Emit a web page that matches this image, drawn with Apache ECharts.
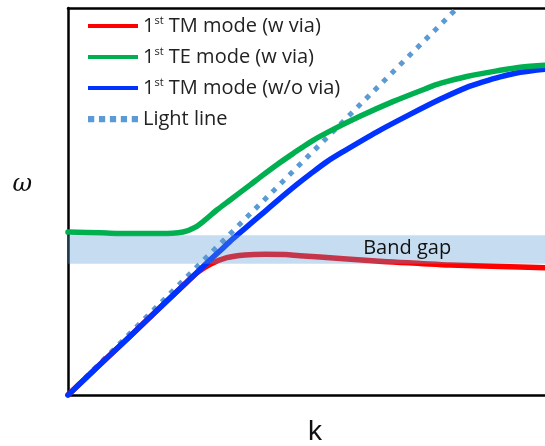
<!DOCTYPE html>
<html>
<head>
<meta charset="utf-8">
<script src="https://cdn.jsdelivr.net/npm/echarts@6/dist/echarts.min.js"></script>
<style>html,body{margin:0;padding:0;background:#fff;}#c{width:545px;height:446px;}</style>
</head>
<body>
<div id="c"></div>
<script>
// ---- data (k, ω in arbitrary normalized units 0..10) ----
const seriesNames = ['1{sup|st} TM mode (w via)', '1{sup|st} TE mode (w via)', '1{sup|st} TM mode (w/o via)', 'Light line'];

const tmViaK = [0, 0.67, 1.24, 1.93, 2.45, 2.73, 2.98, 3.33, 3.71, 4.13, 4.55, 4.86, 5.70, 6.60, 7.38, 8.01, 9.06, 10];
const tmViaW = [0, 0.79, 1.45, 2.26, 2.87, 3.18, 3.38, 3.55, 3.62, 3.64, 3.63, 3.60, 3.53, 3.45, 3.40, 3.36, 3.32, 3.29];

const teViaK = [0, 0.67, 1.30, 1.93, 2.41, 2.66, 2.87, 3.12, 3.40, 3.82, 4.03, 4.38, 4.72, 5.07, 5.43, 6.12, 6.81, 7.53, 7.80, 8.36, 9.06, 9.48, 10];
const teViaW = [4.21, 4.19, 4.17, 4.17, 4.21, 4.33, 4.52, 4.78, 5.04, 5.43, 5.63, 5.95, 6.24, 6.53, 6.78, 7.20, 7.58, 7.93, 8.05, 8.23, 8.39, 8.47, 8.52];

const tmNoViaK = [0, 0.67, 1.24, 1.93, 2.56, 2.91, 3.19, 3.46, 3.82, 4.03, 4.38, 4.80, 5.07, 5.43, 5.77, 6.48, 7.17, 7.80, 8.36, 8.70, 9.06, 9.48, 10];
const tmNoViaW = [0, 0.79, 1.45, 2.26, 3.00, 3.41, 3.73, 4.04, 4.42, 4.64, 5.01, 5.44, 5.70, 6.03, 6.29, 6.80, 7.25, 7.64, 7.95, 8.09, 8.22, 8.34, 8.42];

const lightK = [0, 8.16];
const lightW = [0, 10];

const bandGap = [3.39, 4.13];       // ω range of the band gap
const bandLabel = 'Band gap';
const bandLabelPos = [7.11, 3.80];  // k, ω of label centre
const xName = 'k';
const yName = 'ω';

const zip = (a, b) => a.map((v, i) => [v, b[i]]);

const chart = echarts.init(document.getElementById('c'), null, {renderer: 'canvas'});
const font = 'Open Sans';
const lineBase = (name, color, k, w, z, extra) => Object.assign({
  name: name, type: 'line', data: zip(k, w), showSymbol: false, symbol: 'none',
  smooth: 0.3, z: z,
  lineStyle: {color: color, width: 5.5, cap: 'round', join: 'round'}, itemStyle: {color: color},
  emphasis: {disabled: true}, animation: false
}, extra || {});

chart.setOption({
  animation: false,
  grid: {left: 68, right: 0, top: 8, bottom: 51, outerBoundsMode: 'none', containLabel: false},
  xAxis: [{
    type: 'value', min: 0, max: 10, position: 'bottom',
    axisLine: {show: true, onZero: false, lineStyle: {color: '#000', width: 2.5}},
    axisTick: {show: false}, axisLabel: {show: false}, splitLine: {show: false},
    name: xName, nameLocation: 'middle', nameGap: 23,
    nameTextStyle: {fontFamily: 'Liberation Sans', fontSize: 28, color: '#111', padding: [0, 0, 0, 17]}
  }, {
    type: 'value', min: 0, max: 10, position: 'top',
    axisLine: {show: true, onZero: false, lineStyle: {color: '#000', width: 2.5}},
    axisTick: {show: false}, axisLabel: {show: false}, splitLine: {show: false}
  }],
  yAxis: {
    type: 'value', min: 0, max: 10,
    axisLine: {show: true, onZero: false, lineStyle: {color: '#000', width: 2.5}},
    axisTick: {show: false}, axisLabel: {show: false}, splitLine: {show: false},
    name: yName, nameLocation: 'middle', nameGap: 36, nameRotate: 0,
    nameTextStyle: {fontFamily: 'DejaVu Serif', fontStyle: 'italic', fontSize: 24, color: '#111',
      verticalAlign: 'bottom', lineHeight: 34}
  },
  legend: {
    orient: 'vertical', left: 83, top: 10, itemWidth: 50, itemHeight: 14, itemGap: 9,
    data: [
      {name: seriesNames[0], icon: 'path://M0,0 L50,0 L50,4 L0,4 Z', itemStyle: {color: '#FF0000'}},
      {name: seriesNames[1], icon: 'path://M0,0 L50,0 L50,4 L0,4 Z', itemStyle: {color: '#00B050'}},
      {name: seriesNames[2], icon: 'path://M0,0 L50,0 L50,4 L0,4 Z', itemStyle: {color: '#0033FF'}},
      {name: seriesNames[3], icon: 'path://M0,0 L4,0 L4,4 L0,4 Z M7,0 L11,0 L11,4 L7,4 Z M14,0 L18,0 L18,4 L14,4 Z M21,0 L25,0 L25,4 L21,4 Z M28,0 L32,0 L32,4 L28,4 Z', itemStyle: {color: '#5B9BD5'}}
    ],
    selectedMode: false,
    textStyle: {
      fontFamily: font, fontSize: 20, color: '#222', lineHeight: 22,
      rich: {sup: {fontFamily: font, fontSize: 11, color: '#222', verticalAlign: 'top', lineHeight: 22, padding: [0, 0, 10, 0]}}
    }
  },
  series: [
    lineBase(seriesNames[3], '#5B9BD5', lightK, lightW, 1, {smooth: false, lineStyle: {color: '#5B9BD5', width: 5, type: [5, 7], cap: 'butt'}}),
    lineBase(seriesNames[0], '#FF0000', tmViaK, tmViaW, 2),
    lineBase(seriesNames[2], '#0033FF', tmNoViaK, tmNoViaW, 3),
    lineBase(seriesNames[1], '#00B050', teViaK, teViaW, 4),
    {
      name: 'band', type: 'line', data: [], z: 10, silent: true,
      markArea: {
        silent: true, z: 10,
        itemStyle: {color: 'rgba(91,155,213,0.35)'},
        data: [[{xAxis: 0, yAxis: bandGap[0]}, {xAxis: 10, yAxis: bandGap[1]}]]
      },
      markPoint: {
        silent: true, z: 11, symbol: 'rect', symbolSize: 1, itemStyle: {color: 'rgba(0,0,0,0)'},
        label: {show: true, position: 'inside', formatter: bandLabel, fontFamily: font, fontSize: 20, color: '#111'},
        data: [{coord: bandLabelPos}]
      }
    }
  ]
});
</script>
</body>
</html>
